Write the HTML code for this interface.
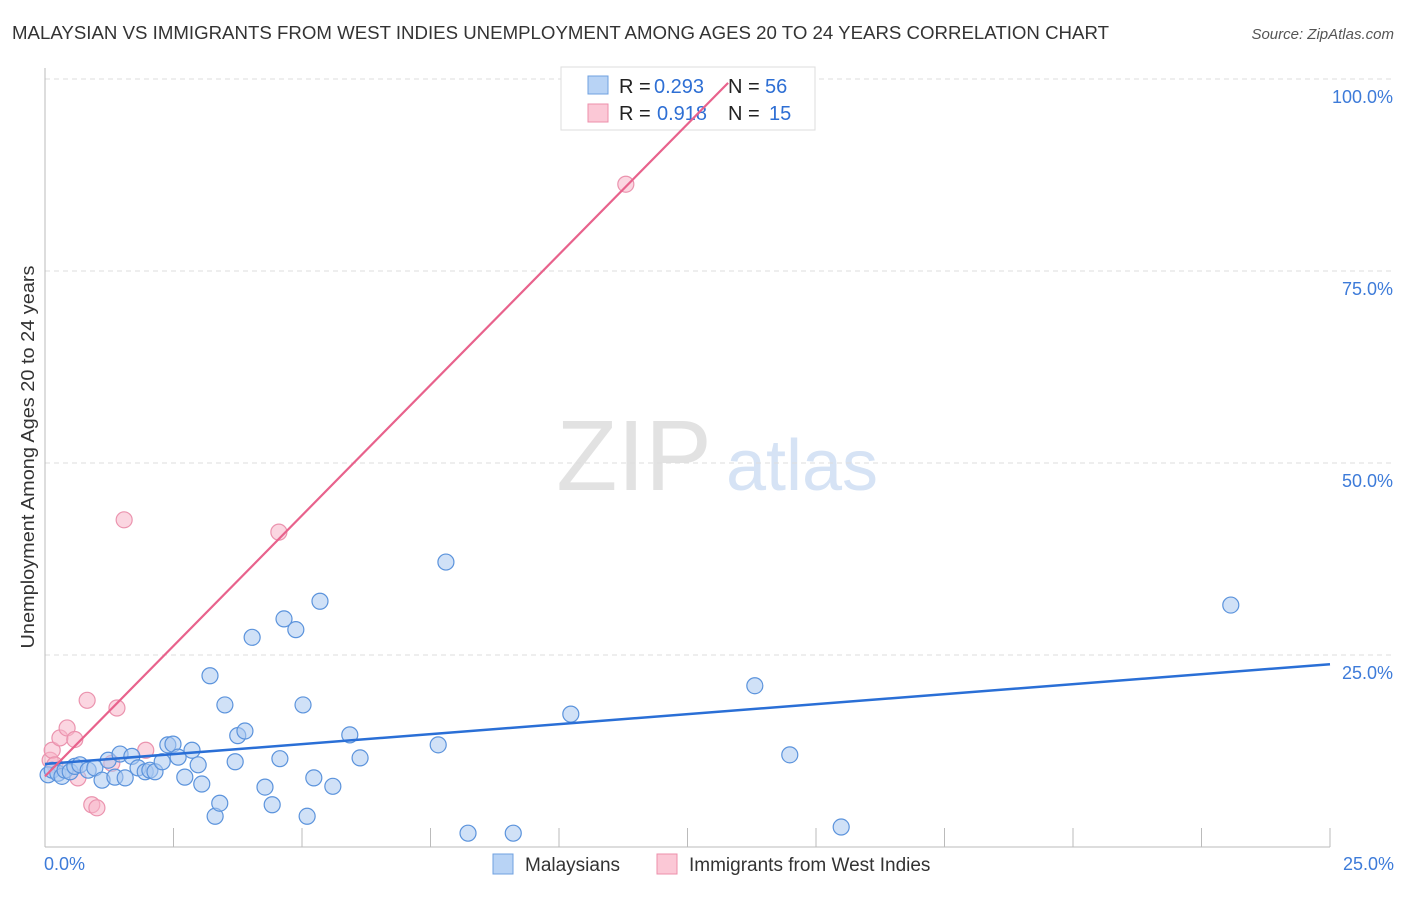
<!DOCTYPE html>
<html><head><meta charset="utf-8"><style>
body{margin:0;background:#fff;font-family:"Liberation Sans",sans-serif}
svg text{font-family:"Liberation Sans",sans-serif}
</style></head><body>
<svg id="c" width="1406" height="892">
<text x="12" y="39" font-size="18" fill="#333" textLength="1097" lengthAdjust="spacingAndGlyphs">MALAYSIAN VS IMMIGRANTS FROM WEST INDIES UNEMPLOYMENT AMONG AGES 20 TO 24 YEARS CORRELATION CHART</text>
<text x="1394" y="39" font-size="15" fill="#555" text-anchor="end" font-style="italic">Source: ZipAtlas.com</text>
<text x="634" y="490" font-size="100" fill="#e2e2e2" text-anchor="middle" font-family="Liberation Serif">ZIP</text>
<text x="802" y="490" font-size="72" fill="#d6e3f5" text-anchor="middle">atlas</text>
<text transform="translate(34,457) rotate(-90)" font-size="18" fill="#333" text-anchor="middle" textLength="383" lengthAdjust="spacingAndGlyphs">Unemployment Among Ages 20 to 24 years</text>
<g id="grid"></g><g id="pts"></g>
<g>
<rect x="561" y="67" width="254" height="63" fill="#fff" stroke="#ddd"/>
<rect x="588" y="76" width="20" height="18" fill="#b8d3f5" stroke="#6fa0e0"/>
<rect x="588" y="104" width="20" height="18" fill="#fbc8d6" stroke="#ec8fab"/>
<text x="619" y="93" font-size="20" fill="#222">R =</text>
<text x="654" y="93" font-size="20" fill="#2e6fd4">0.293</text>
<text x="728" y="93" font-size="20" fill="#222">N =</text>
<text x="765" y="93" font-size="20" fill="#2e6fd4">56</text>
<text x="619" y="120" font-size="20" fill="#222">R =</text>
<text x="657" y="120" font-size="20" fill="#2e6fd4">0.918</text>
<text x="728" y="120" font-size="20" fill="#222">N =</text>
<text x="769" y="120" font-size="20" fill="#2e6fd4">15</text>
</g>
<g id="lines"></g>
<g>
<rect x="493" y="854" width="20" height="20" fill="#b8d3f5" stroke="#6fa0e0"/>
<text x="525" y="871" font-size="19" fill="#333">Malaysians</text>
<rect x="657" y="854" width="20" height="20" fill="#fbc8d6" stroke="#ec8fab"/>
<text x="689" y="871" font-size="19" fill="#333">Immigrants from West Indies</text>
</g>
</svg>
<script>
const yTicks=[25,50,75,100];
const yTickLabels=["25.0%","50.0%","75.0%","100.0%"];
const xTicks=[2.5,5,7.5,10,12.5,15,17.5,20,22.5,25];
const blueX=[0.06,0.14,0.25,0.33,0.39,0.49,0.58,0.68,0.84,0.97,1.11,1.23,1.36,1.46,1.56,1.69,1.81,1.95,2.04,2.14,2.28,2.39,2.49,2.59,2.72,2.86,2.98,3.05,3.21,3.31,3.40,3.50,3.70,3.75,3.89,4.03,4.28,4.42,4.57,4.65,4.88,5.02,5.10,5.23,5.35,5.60,5.93,6.13,7.65,7.80,8.23,9.11,10.23,13.81,14.49,15.49,23.07];
const blueY=[9.4,10.0,9.6,9.2,10.0,9.8,10.5,10.7,10.0,10.3,8.7,11.3,9.1,12.1,9.0,11.8,10.3,9.8,10.0,9.8,11.1,13.3,13.4,11.7,9.1,12.6,10.7,8.2,22.3,4.0,5.7,18.5,11.1,14.5,15.1,27.3,7.8,5.5,11.5,29.7,28.3,18.5,4.0,9.0,32.0,7.9,14.6,11.6,13.3,37.1,1.8,1.8,17.3,21.0,12.0,2.6,31.5];
const pinkX=[0.10,0.14,0.19,0.29,0.43,0.58,0.64,0.82,0.91,1.01,1.30,1.40,1.54,1.96,4.55,11.30];
const pinkY=[11.3,12.6,10.7,14.2,15.5,14.0,9.0,19.1,5.5,5.1,10.9,18.1,42.6,12.6,41.0,86.3];
const blueLine=[[0,10.8],[25,23.8]];
const pinkLine=[[0,9.2],[13.29,99.5]];
const X=v=>45+v*51.4, Y=v=>847-v*7.68;
const NS="http://www.w3.org/2000/svg";
function mk(t,a,p){const e=document.createElementNS(NS,t);for(const k in a)e.setAttribute(k,a[k]);p.appendChild(e);return e;}
const g=document.getElementById('grid');
yTicks.forEach((t,i)=>{
 const l=mk('line',{x1:45,x2:1394,y1:Y(t),y2:Y(t),stroke:'#ddd','stroke-dasharray':'5,4'},g);
 
 
 const tx=mk('text',{x:1393,y:Y(t)+24,'font-size':18,fill:'#3d7bd9','text-anchor':'end'},g);
 tx.textContent=yTickLabels[i];
 
 
});
const ax=mk('line',{x1:45,x2:45,y1:68,y2:847,stroke:'#bbb'},g);


const bx=mk('line',{x1:45,x2:1330,y1:847,y2:847,stroke:'#bbb'},g);


xTicks.forEach(t=>{
 const l=mk('line',{x1:X(t),x2:X(t),y1:828,y2:847,stroke:'#bbb'},g);
 
 
});
const x0=mk('text',{x:44,y:870,'font-size':18,fill:'#3d7bd9'},g);x0.textContent='0.0%';


const x1=mk('text',{x:1394,y:870,'font-size':18,fill:'#3d7bd9','text-anchor':'end'},g);x1.textContent='25.0%';


const p=document.getElementById('pts');
pinkX.forEach((v,i)=>{
 const c=mk('circle',{cx:X(v),cy:Y(pinkY[i]),r:8,fill:'rgba(248,180,200,0.55)',stroke:'#eb93ae','stroke-width':1.2},p);
 
 
});
blueX.forEach((v,i)=>{
 const c=mk('circle',{cx:X(v),cy:Y(blueY[i]),r:8,fill:'rgba(170,200,240,0.55)',stroke:'#5b93dc','stroke-width':1.2},p);
 
 
});
const L=document.getElementById('lines');
const bl=mk('line',{x1:X(blueLine[0][0]),y1:Y(blueLine[0][1]),x2:X(blueLine[1][0]),y2:Y(blueLine[1][1]),stroke:'#2a6fd6','stroke-width':2.5},L);


const pl=mk('line',{x1:X(pinkLine[0][0]),y1:Y(pinkLine[0][1]),x2:X(pinkLine[1][0]),y2:Y(pinkLine[1][1]),stroke:'#e8628c','stroke-width':2.2},L);


</script>
</body></html>
